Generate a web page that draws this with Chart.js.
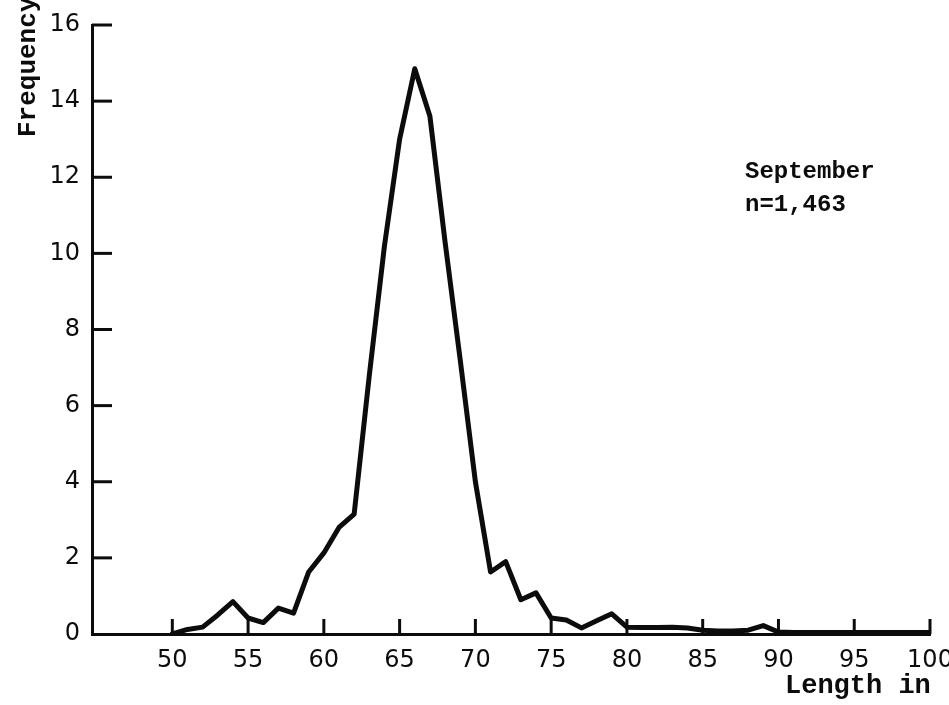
<!DOCTYPE html>
<html>
<head>
<meta charset="utf-8">
<script src="https://cdn.jsdelivr.net/npm/chart.js@4"></script>
<style>
  body { margin: 0; background: #fff; }
  canvas { display: block; }
</style>
</head>
<body>
<canvas id="lengthChart" width="949" height="705"></canvas>
<script>
// lengths (mm) and frequency (%)
const lengths = [50, 51, 52, 53, 54, 55, 56, 57, 58, 59,
                 60, 61, 62, 63, 64, 65, 66, 67, 68, 69,
                 70, 71, 72, 73, 74, 75, 76, 77, 78, 79,
                 80, 81, 82, 83, 84, 85, 86, 87, 88, 89,
                 90, 91, 92, 93, 94, 95, 96, 97, 98, 99, 100];
const frequency = [0, 0.12, 0.18, 0.5, 0.85, 0.42, 0.3, 0.68, 0.55, 1.63,
                   2.13, 2.8, 3.15, 6.8, 10.2, 13.0, 14.85, 13.6, 10.3, 7.2,
                   4.0, 1.63, 1.9, 0.9, 1.08, 0.42, 0.37, 0.16, 0.35, 0.53,
                   0.18, 0.17, 0.17, 0.18, 0.16, 0.1, 0.08, 0.08, 0.1, 0.22,
                   0.05, 0.04, 0.04, 0.04, 0.04, 0.04, 0.04, 0.04, 0.04, 0.04, 0.04];
const xTicks = [50, 55, 60, 65, 70, 75, 80, 85, 90, 95, 100];
const yTicks = [0, 2, 4, 6, 8, 10, 12, 14, 16];

const INK = '#0c0c0c';

// short tick marks pointing into the plot, like the hand-drawn axes
const innerTicks = {
    id: 'innerTicks',
    afterDraw(chart) {
        const ctx = chart.ctx;
        const xs = chart.scales.x;
        const ys = chart.scales.y;
        ctx.save();
        ctx.strokeStyle = INK;
        ctx.lineWidth = 3;
        xTicks.forEach(function (v) {
            const px = xs.getPixelForValue(v);
            ctx.beginPath();
            ctx.moveTo(px, ys.bottom);
            ctx.lineTo(px, ys.bottom - 15);
            ctx.stroke();
        });
        yTicks.forEach(function (v) {
            if (v === 0) return;
            const py = ys.getPixelForValue(v);
            ctx.beginPath();
            ctx.moveTo(xs.left, py);
            ctx.lineTo(xs.left + 20, py);
            ctx.stroke();
        });
        ctx.restore();
    }
};

// typed labels around the plot
const notes = {
    id: 'notes',
    afterDraw(chart) {
        const ctx = chart.ctx;
        ctx.save();
        ctx.fillStyle = INK;
        ctx.font = 'bold 27px "Liberation Mono"';
        ctx.textAlign = 'left';
        ctx.textBaseline = 'alphabetic';
        ctx.fillText('Length in (mm)', 785, 693);

        ctx.font = 'bold 24px "Liberation Mono"';
        ctx.fillText('September', 745, 178);
        ctx.fillText('n=1,463', 745, 211);

        ctx.translate(35, 137);
        ctx.rotate(-Math.PI / 2);
        ctx.font = 'bold 26px "Liberation Mono"';
        ctx.fillText('Frequency', 0, 0);
        ctx.restore();
    }
};

const ctx = document.getElementById('lengthChart').getContext('2d');
new Chart(ctx, {
    type: 'line',
    data: {
        datasets: [{
            data: lengths.map((l, i) => ({ x: l, y: frequency[i] })),
            borderColor: INK,
            borderWidth: 5,
            borderJoinStyle: 'round',
            borderCapStyle: 'round',
            pointRadius: 0,
            tension: 0,
            fill: false
        }]
    },
    options: {
        responsive: false,
        animation: false,
        devicePixelRatio: 1,
        layout: {
            padding: { top: 25, right: 19, left: 0, bottom: 0 }
        },
        plugins: {
            legend: { display: false },
            tooltip: { enabled: false }
        },
        scales: {
            x: {
                type: 'linear',
                min: 44.7,
                max: 100,
                afterBuildTicks: s => { s.ticks = xTicks.map(v => ({ value: v })); },
                afterFit: s => { s.height = 71; s.paddingLeft = 0; s.paddingRight = 0; },
                border: { display: true, color: INK, width: 3 },
                grid: { drawOnChartArea: false, drawTicks: false },
                ticks: {
                    color: INK,
                    font: { family: '"DejaVu Sans"', size: 24 },
                    padding: 12,
                    maxRotation: 0,
                    autoSkip: false
                }
            },
            y: {
                min: 0,
                max: 16,
                afterBuildTicks: s => { s.ticks = yTicks.map(v => ({ value: v })); },
                afterFit: s => { s.width = 92; s.paddingTop = 0; s.paddingBottom = 0; },
                border: { display: true, color: INK, width: 3 },
                grid: { drawOnChartArea: false, drawTicks: false },
                ticks: {
                    color: INK,
                    font: { family: '"DejaVu Sans"', size: 24 },
                    padding: 12
                }
            }
        }
    },
    plugins: [innerTicks, notes]
});
</script>
</body>
</html>
